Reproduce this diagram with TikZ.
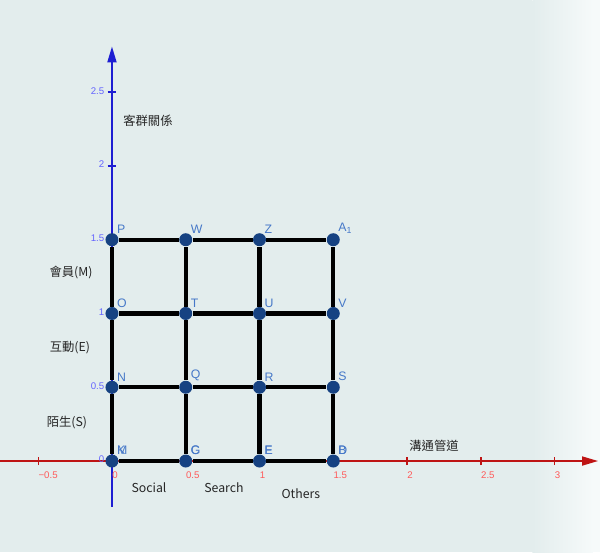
\documentclass[tikz,border=0pt]{standalone}
\usepackage{fontspec}
\setmainfont{Liberation Sans}
\newfontfamily\cjk{Noto Sans CJK TC}
\usetikzlibrary{arrows.meta}
\definecolor{ggbg}{RGB}{227,237,237}
\definecolor{ggfade}{RGB}{246,250,250}
\definecolor{ptblue}{RGB}{22,66,130}
\definecolor{lblblue}{RGB}{70,120,200}
\definecolor{yaxis}{RGB}{30,30,210}
\definecolor{xaxis}{RGB}{190,20,20}
\definecolor{xtick}{RGB}{255,90,90}
\definecolor{ytick}{RGB}{100,100,255}
\tikzstyle{gpoint}=[circle, fill=ptblue, inner sep=0pt, minimum size=0.26cm]
\tikzstyle{gridline}=[line width=2.3pt, black]
\tikzstyle{ptlabel}=[text=lblblue, font=\fontsize{7}{8}\selectfont, inner sep=0pt, anchor=south west]
\tikzstyle{xlab}=[text=xtick, font=\fontsize{5.5}{6}\selectfont, inner sep=0pt, anchor=north west]
\tikzstyle{ylab}=[text=ytick, font=\fontsize{5.5}{6}\selectfont, inner sep=0pt, anchor=east]
\tikzstyle{caption}=[font=\cjk\fontsize{7}{8}\selectfont, text=black!85, inner sep=0pt]
\newcommand{\gpt}{\node[gpoint]}

\begin{document}
\begin{tikzpicture}[x=2.95cm,y=2.95cm]
\fill[ggbg] (-0.759,-0.617) rectangle (2.85,3.125);
\shade[left color=ggbg, right color=ggfade] (2.85,-0.617) rectangle (3.26,3.125);
\fill[ggfade] (3.26,-0.617) rectangle (3.308,3.125);
\useasboundingbox (-0.759,-0.617) rectangle (3.308,3.125);
% axes
\coordinate (xs) at (-0.759,0);
\coordinate (xe) at (3.295,0);
\coordinate (ys) at (0,-0.31);
\coordinate (ye) at (0,2.81);
\draw[xaxis, line width=0.9pt, -{Triangle[length=0.32cm,width=0.18cm]}] (xs) -- (xe);
\draw[yaxis, line width=1.1pt, -{Triangle[length=0.32cm,width=0.18cm]}] (ys) -- (ye);
\foreach \x/\t in {-0.5/−0.5, 0/0, 0.5/0.5, 1/1, 1.5/1.5, 2/2, 2.5/2.5, 3/3}{
	\draw[xaxis, line width=0.8pt] (\x,-0.027) -- (\x,0.027);
	\node[xlab] (xl\t) at ([yshift=-0.2cm]\x,0) {\t};
	}
\foreach \y in {0, 0.5, 1, 1.5, 2, 2.5}{
	\draw[yaxis, line width=0.8pt] (-0.03,\y) -- (0.03,\y);
	\node[ylab] (yl\y) at (-0.05,\y+0.01) {\y};
	}
% grid of points
\foreach \i in {0,...,3}{
	\foreach \j in {0,...,3}{
		\gpt (p\i\j) at (\i/2,\j/2){};
		}
	}
\foreach \i in {0,...,3}{
	\draw[gridline] (p\i0)--(p\i1)--(p\i2)--(p\i3);
	\draw[gridline] (p0\i)--(p1\i)--(p2\i)--(p3\i);
	}
\foreach \n/\t in {p03/P, p13/W, p23/Z, p33/A\textsubscript{1}, p02/O, p12/T, p22/U, p32/V,
	p01/N, p11/Q, p21/R, p31/S, p00/\rlap{K}M, p10/\rlap{C}G, p20/\rlap{F}E, p30/\rlap{D}B}{
	\node[ptlabel] (l\n) at ([yshift=0.02cm]\n.north east) {\t};
	}
% captions
\node[caption] (rel) at (0.244,2.305) {客群關係};
\node[caption] (mem) at (-0.278,1.275) {會員(M)};
\node[caption] (int) at (-0.285,0.766) {互動(E)};
\node[caption] (str) at (-0.305,0.258) {陌生(S)};
\node[caption] (chan) at (2.183,0.102) {溝通管道};
\node[caption] (soc) at (0.251,-0.183) {Social};
\node[caption] (sea) at (0.759,-0.183) {Search};
\node[caption] (oth) at (1.28,-0.224) {Others};
\end{tikzpicture}
\end{document}
